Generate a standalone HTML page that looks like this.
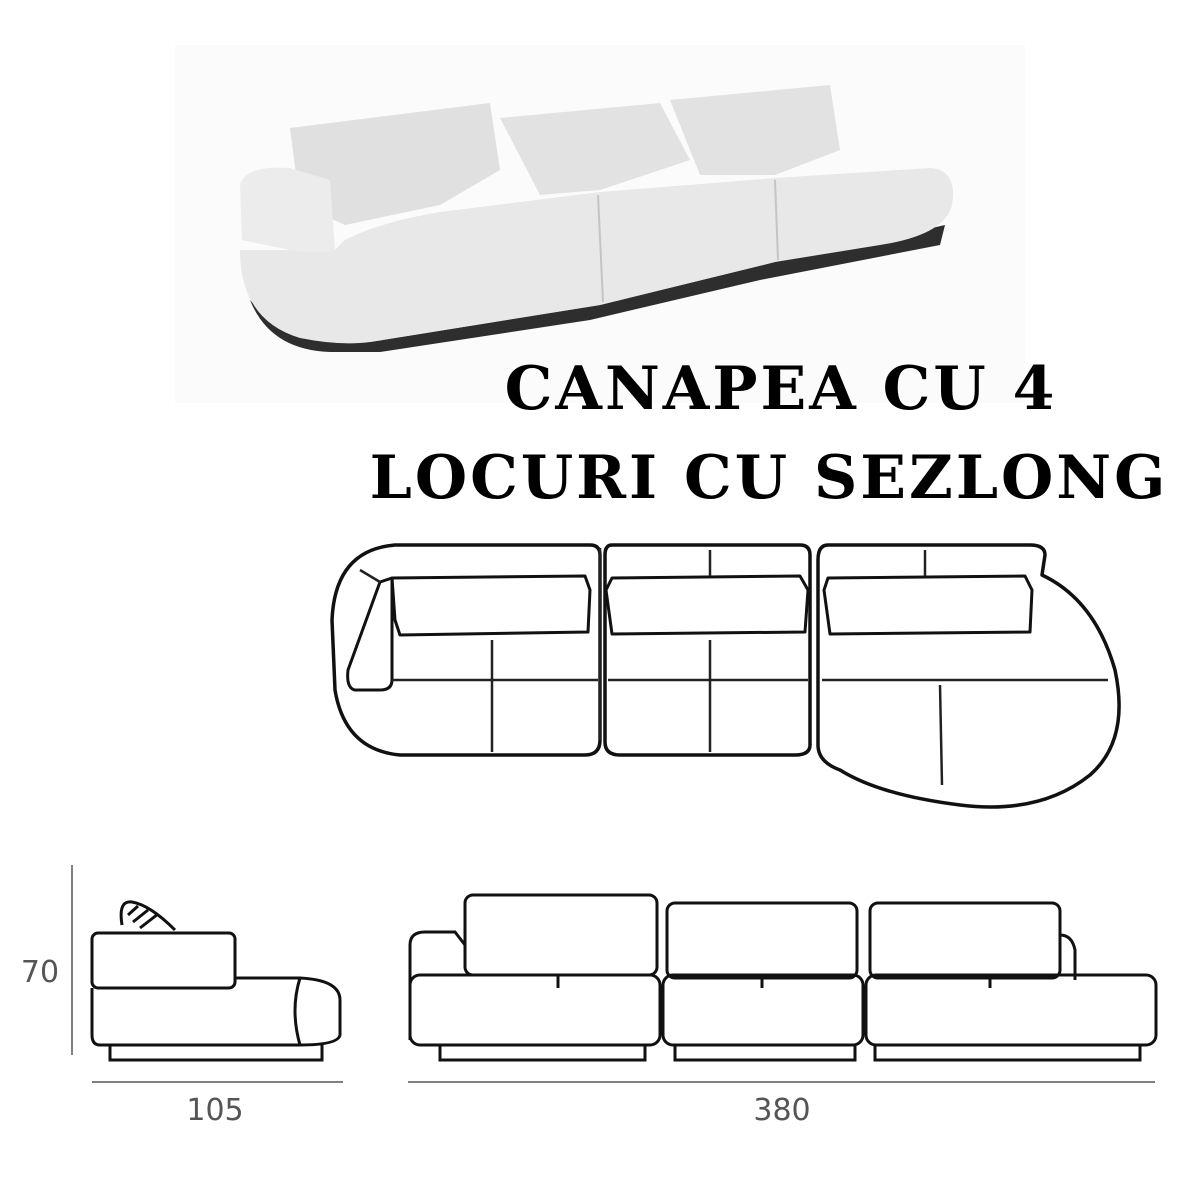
<!DOCTYPE html>
<html><head><style>
html,body{margin:0;padding:0;background:#fff;}
body{width:1200px;height:1200px;position:relative;overflow:hidden;}
svg{position:absolute;left:0;top:0;}
.t{font-family:"DejaVu Serif","Liberation Serif",serif;font-weight:bold;font-size:60px;fill:#000;letter-spacing:3px}
.d{font-family:"DejaVu Sans","Liberation Sans",sans-serif;font-size:30px;fill:#555}
</style></head><body>
<svg width="1200" height="1200" viewBox="0 0 1200 1200">
<rect x="175" y="45" width="850" height="358" fill="#fbfbfb"/>
<g stroke="none">
<path d="M250 300 Q270 350 330 352 L380 352 L590 320 L760 280 L940 245 L945 225 L880 240 L775 262 L600 305 L370 342 Q290 345 250 300 Z" fill="#2e2e2e"/>
<path d="M290 128 L490 103 L500 170 L440 205 L345 225 L300 205 Z" fill="#e0e0e0"/>
<path d="M500 118 L660 103 L690 160 L600 190 L540 195 Z" fill="#e2e2e2"/>
<path d="M670 100 L830 85 L840 150 L775 175 L700 175 Z" fill="#e2e2e2"/>
<path d="M240 250 Q240 320 300 338 Q340 346 370 342 L600 305 L775 262 L880 245 Q945 235 952 205 Q958 170 930 168 L775 178 L600 192 L440 212 Q380 222 345 240 L335 250 Z" fill="#e8e8e8"/>
<path d="M240 185 Q245 165 290 168 L330 180 L335 250 Q320 255 290 250 L242 240 Z" fill="#ececec"/>
<path d="M598 195 L603 302 M775 180 L778 260" stroke="#c4c4c4" stroke-width="2"/>
</g>
<text class="t" x="781" y="409" text-anchor="middle">CANAPEA CU 4</text>
<text class="t" x="769" y="498" text-anchor="middle">LOCURI CU SEZLONG</text>
<g fill="none" stroke="#111" stroke-width="3.5" stroke-linejoin="round">
<path d="M395 545 L590 545 Q600 545 600 555 L600 740 Q600 755 585 755 L400 755 Q345 750 335 690 L332 620 Q335 550 395 545 Z"/>
<path d="M612 545 L800 545 Q810 545 810 555 L810 745 Q810 755 795 755 L620 755 Q605 755 605 742 L605 555 Q605 545 612 545 Z"/>
<path d="M828 545 L1030 545 Q1045 545 1045 555 L1042 575 Q1095 600 1115 670 Q1130 740 1090 775 Q1040 815 960 805 Q880 795 840 770 Q818 762 818 745 L818 560 Q818 545 828 545 Z"/>
<path d="M392 578 L585 576 L590 590 L588 632 L400 635 L395 620 Z" stroke-width="3"/>
<path d="M612 578 L800 576 L808 590 L805 632 L612 634 L606 590 Z" stroke-width="3"/>
<path d="M828 578 L1025 576 L1032 590 L1030 632 L830 634 L824 590 Z" stroke-width="3"/>
<path d="M380 582 L392 578 L392 680 Q392 690 380 690 L355 690 Q346 688 348 670 Z" stroke-width="3"/>
</g>
<g fill="none" stroke="#222" stroke-width="2.5">
<path d="M360 570 L380 582 M392 680 L598 680 M608 680 L808 680 M822 680 L1108 680 M492 640 L492 752 M710 550 L710 576 M710 640 L710 752 M925 550 L925 576 M940 685 L942 785 M600 548 L600 740"/>
</g>
<g fill="none" stroke="#111" stroke-width="3">
<path d="M122 925 Q118 900 132 902 Q150 905 175 930"/>
<path d="M128 915 L138 906 M133 922 L148 910 M140 928 L158 914"/>
<rect x="92" y="933" width="143" height="55" rx="6"/>
<path d="M235 978 L300 978 Q340 980 340 1000 L340 1035 Q338 1045 300 1045 L100 1045 Q92 1045 92 1035 L92 988"/>
<path d="M300 978 Q290 1010 300 1045"/>
<path d="M110 1045 L110 1060 L322 1060 L322 1045"/>
</g>
<g fill="none" stroke="#111" stroke-width="3">
<path d="M410 1040 L410 945 Q410 932 425 932 L455 932 L465 945"/>
<rect x="465" y="895" width="192" height="80" rx="8"/>
<rect x="667" y="903" width="190" height="75" rx="8"/>
<rect x="870" y="903" width="190" height="75" rx="8"/>
<path d="M1060 935 Q1072 935 1075 950 L1075 980"/>
<rect x="410" y="975" width="250" height="70" rx="10"/>
<rect x="663" y="975" width="200" height="70" rx="10"/>
<rect x="866" y="975" width="290" height="70" rx="10"/>
<path d="M558 975 L558 988 M762 975 L762 988 M990 975 L990 988"/>
<path d="M440 1045 L440 1060 L645 1060 L645 1045 M675 1045 L675 1060 L855 1060 L855 1045 M875 1045 L875 1060 L1140 1060 L1140 1045"/>
</g>
<g stroke="#555" stroke-width="1.5">
<line x1="72" y1="865" x2="72" y2="1055"/>
<line x1="92" y1="1082" x2="343" y2="1082"/>
<line x1="408" y1="1082" x2="1155" y2="1082"/>
</g>
<text class="d" x="40" y="982" text-anchor="middle">70</text>
<text class="d" x="215" y="1120" text-anchor="middle">105</text>
<text class="d" x="782" y="1120" text-anchor="middle">380</text>
</svg>
</body></html>
